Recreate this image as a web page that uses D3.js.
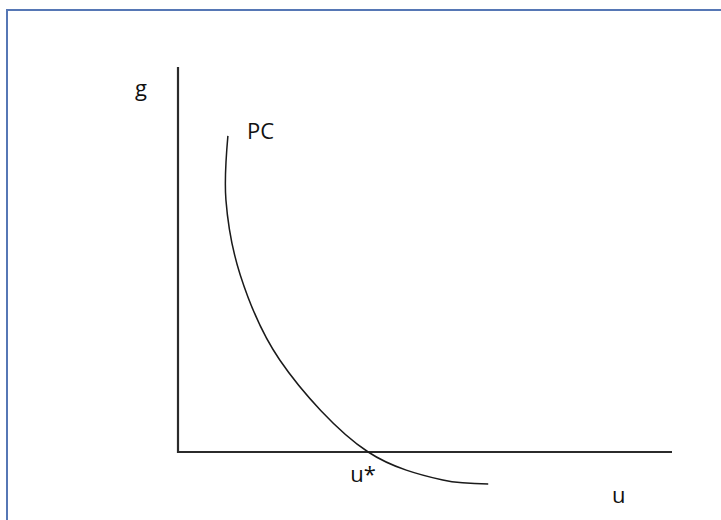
<!DOCTYPE html>
<html>
<head>
<meta charset="utf-8">
<script src="https://cdn.jsdelivr.net/npm/d3@7"></script>
<style>
  body { margin: 0; background: #fff; }
  svg text { font-family: "Open Sans", "Noto Sans", sans-serif; fill: #111; }
</style>
</head>
<body>
<svg id="chart"></svg>
<script>
// PC curve (u on the horizontal axis, g on the vertical one, both 0..100)
const pcU = [10.1, 9.7, 12.6, 20.6, 38.5, 53.6, 62.8];
const pcG = [82.1, 65.5, 46.0, 23.9, 0, -7.3, -8.3];

const axisLabels = ["g", "u"];
const curveLabel = "PC";
const steadyLabel = "u*";
const steadyU = 38.5;

const width = 721, height = 520;

const svg = d3.select("#chart")
    .attr("width", width)
    .attr("height", height);

// frame round the figure
svg.append("rect")
    .attr("x", 7)
    .attr("y", 10)
    .attr("width", 760)
    .attr("height", 560)
    .attr("fill", "none")
    .attr("stroke", "#5677b5")
    .attr("stroke-width", 2);

const x = d3.scaleLinear().domain([0, 100]).range([178, 672]);
const y = d3.scaleLinear().domain([0, 100]).range([452, 67]);

// axes
svg.append("path")
    .attr("d", `M${x(0)},${y(100)}V${y(0)}H${x(100)}`)
    .attr("fill", "none")
    .attr("stroke", "#2b2b2b")
    .attr("stroke-width", 2.2);

const pts = pcU.map((u, i) => [u, pcG[i]]);

const line = d3.line()
    .x(d => x(d[0]))
    .y(d => y(d[1]))
    .curve(d3.curveCatmullRom.alpha(0.5));

svg.append("path")
    .datum(pts)
    .attr("d", line)
    .attr("fill", "none")
    .attr("stroke", "#1a1a1a")
    .attr("stroke-width", 1.5);

// labels
svg.append("text")
    .attr("x", x(0) - 43)
    .attr("y", y(100) + 29)
    .attr("font-size", 22)
    .text(axisLabels[0]);

svg.append("text")
    .attr("x", x(pcU[0]) + 19)
    .attr("y", y(pcG[0]) + 3)
    .attr("font-size", 22)
    .text(curveLabel);

svg.append("text")
    .attr("x", x(steadyU) - 18)
    .attr("y", y(0) + 30)
    .attr("font-size", 22)
    .text(steadyLabel);

svg.append("text")
    .attr("x", x(100) - 60)
    .attr("y", y(0) + 51)
    .attr("font-size", 22)
    .text(axisLabels[1]);
</script>
</body>
</html>
